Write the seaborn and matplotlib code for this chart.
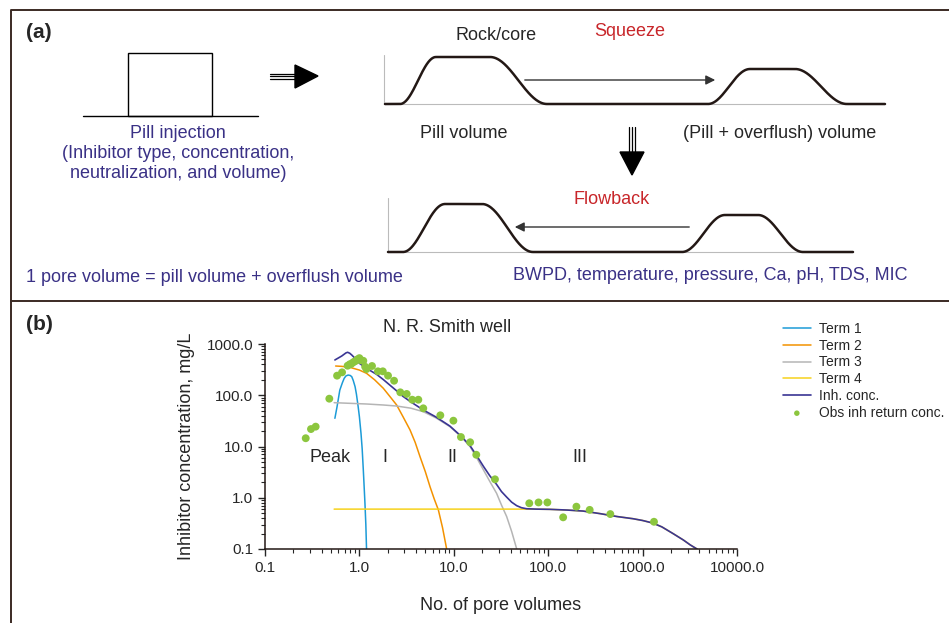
import numpy as np
import matplotlib
matplotlib.use("Agg")
import matplotlib.pyplot as plt
from matplotlib.patches import Polygon, Rectangle
from matplotlib.ticker import FuncFormatter, LogLocator
import seaborn as sns

sns.set_style("ticks")
plt.rcParams['font.family'] = ['Liberation Sans', 'DejaVu Sans']

# ---- data ----
obs_pv = [0.27, 0.307, 0.344, 0.48, 0.58, 0.655, 0.75, 0.79, 0.82, 0.86, 0.90, 0.95,
          1.0, 1.04, 1.1, 1.15, 1.19, 1.36, 1.57, 1.77, 2.01, 2.33, 2.71, 3.17, 3.63,
          4.21, 4.75, 7.2, 9.9, 11.9, 14.9, 17.3, 27.3, 63, 79, 98, 144, 199, 275, 455, 1320]
obs_conc = [14.5, 21.9, 24.4, 85.7, 241, 280, 377, 402, 410, 440, 460, 500,
            530, 480, 470, 360, 325, 372, 293, 293, 241, 192, 114, 106, 81.8,
            81.8, 55.6, 40.6, 31.9, 15.3, 12.1, 6.9, 2.29, 0.78, 0.81, 0.81, 0.415, 0.67, 0.58, 0.48, 0.34]

t1_pv = [0.55, 0.58, 0.62, 0.66, 0.69, 0.72, 0.76, 0.80, 0.83, 0.86, 0.90, 0.93,
         0.97, 1.0, 1.04, 1.07, 1.10, 1.12, 1.145, 1.17, 1.19]
t1_conc = [35.5, 60, 126, 175, 214, 238, 248, 243, 230, 195, 147, 105,
           60, 38, 18, 9, 3.5, 1.8, 0.78, 0.3, 0.1]

t2_pv = [0.56, 0.65, 0.79, 1.0, 1.19, 1.45, 1.79, 2.1, 2.48, 2.9, 3.44, 3.9, 4.39,
         5.0, 5.6, 6.2, 6.86, 7.6, 8.4]
t2_conc = [372, 366, 351, 310, 268, 200, 137, 95, 64.6, 38, 21, 12, 6.3,
           3.2, 1.64, 0.95, 0.58, 0.26, 0.1]

t3_pv = [0.54, 1.19, 1.8, 2.48, 3.5, 4.75, 6.5, 9.1, 12, 14.9, 17.5, 20.6, 24, 28.4,
         32, 36.3, 41, 46.4]
t3_conc = [71.6, 67.5, 64.5, 61.6, 56, 47.8, 36, 24.4, 15.5, 9.9, 6.0, 3.5, 2.1, 1.22,
           0.72, 0.43, 0.22, 0.1]

t4_pv = [0.54, 10, 59, 104, 160, 234, 354, 536, 791, 1000, 1288, 1600, 2100, 2700, 3200, 3770]
t4_conc = [0.60, 0.60, 0.60, 0.594, 0.575, 0.55, 0.49, 0.43, 0.39, 0.36, 0.32, 0.27,
           0.20, 0.15, 0.12, 0.1]

inh_pv = [0.55, 0.65, 0.72, 0.75, 0.79, 0.83, 0.90, 1.0, 1.19, 1.52, 1.8, 2.1, 2.48,
          2.9, 3.44, 4.75, 6.5, 9.1, 12, 14.9, 17.5, 20.6, 24, 28.4, 32, 36.3, 41, 46.4,
          52, 59, 75, 104, 160, 234, 354, 536, 791, 1000, 1288, 1600, 2100, 2700, 3200, 3770]
inh_conc = [488, 583, 670, 689, 660, 610, 525, 420, 335, 256, 201, 158, 122,
            95, 76, 51.5, 37.5, 25, 15.8, 10.3, 6.6, 4.1, 2.7, 1.82, 1.32, 1.03, 0.82, 0.70,
            0.64, 0.61, 0.60, 0.594, 0.575, 0.55, 0.49, 0.43, 0.39, 0.36, 0.32, 0.27,
            0.20, 0.15, 0.12, 0.1]

x_ticks = [0.1, 1, 10, 100, 1000, 10000]
y_ticks = [0.1, 1, 10, 100, 1000]

PURPLE = "#3a3186"
RED = "#c8262a"
FRAME = "#3b2a24"

W, H = 949, 623
fig = plt.figure(figsize=(W / 100, H / 100), dpi=100)

# overlay in pixel coordinates for the schematic (a) and frame
ov = fig.add_axes([0, 0, 1, 1])
ov.set_xlim(0, W)
ov.set_ylim(H, 0)
ov.axis('off')

# frame and divider
ov.plot([11, 11, 949], [623, 10, 10], color=FRAME, lw=1.4)
ov.plot([11, 949], [301, 301], color=FRAME, lw=1.4)

ov.text(26, 33, "(a)", fontsize=15, fontweight='bold', va='center', ha='left')
ov.text(26, 325, "(b)", fontsize=15, fontweight='bold', va='center', ha='left')

# pill box
ov.add_patch(Rectangle((128, 53), 84, 63, fill=False, ec='black', lw=1.0))
ov.plot([83, 258], [116, 116], color='black', lw=1.0)
for i, line in enumerate(["Pill injection", "(Inhibitor type, concentration,",
                          "neutralization, and volume)"]):
    ov.text(178, 133 + i * 20, line, color=PURPLE, fontsize=13, ha='center', va='center')

# triple-line arrow right
for dy in (-2.5, 0, 2.5):
    ov.plot([270, 296], [76 + dy, 76 + dy], color='black', lw=0.9)
ov.add_patch(Polygon([[295, 65], [318, 76], [295, 88]], closed=True, fc='black', ec='black'))

# triple-line arrow down
for dx in (-3, 0, 3):
    ov.plot([632 + dx, 632 + dx], [127, 153], color='black', lw=0.9)
ov.add_patch(Polygon([[620, 152], [644, 152], [632, 175]], closed=True, fc='black', ec='black'))


def bump(xs, base, segs):
    ys = np.full_like(xs, base, dtype=float)
    for x0, x1, x2, x3, top in segs:
        r = (xs >= x0) & (xs < x1)
        ys[r] = base + (top - base) * (1 - np.cos(np.pi * (xs[r] - x0) / (x1 - x0))) / 2
        ys[(xs >= x1) & (xs <= x2)] = top
        f = (xs > x2) & (xs <= x3)
        ys[f] = top + (base - top) * (1 - np.cos(np.pi * (xs[f] - x2) / (x3 - x2))) / 2
    return ys


# squeeze schematic
ov.plot([384, 384], [55, 104], color='#bbbbbb', lw=0.8)
ov.plot([384, 885], [104, 104], color='#bbbbbb', lw=0.8)
xs = np.linspace(385, 885, 600)
ov.plot(xs, bump(xs, 104, [(400, 436, 490, 547, 57), (708, 750, 795, 847, 69)]),
        color='#231815', lw=1.8)
ov.annotate("", xy=(718, 80), xytext=(522, 80),
            arrowprops=dict(arrowstyle='-|>', color='#333333', lw=1.0, mutation_scale=14))
ov.text(496, 35, "Rock/core", fontsize=13, ha='center', va='center')
ov.text(630, 31, "Squeeze", fontsize=13, ha='center', va='center', color=RED)
ov.text(464, 133, "Pill volume", fontsize=13, ha='center', va='center')
ov.text(780, 133, "(Pill + overflush) volume", fontsize=13, ha='center', va='center')

# flowback schematic
ov.plot([388, 388], [198, 252], color='#bbbbbb', lw=0.8)
ov.plot([388, 853], [252, 252], color='#bbbbbb', lw=0.8)
xs = np.linspace(388, 853, 600)
ov.plot(xs, bump(xs, 252, [(403, 445, 482, 533, 204), (682, 725, 758, 803, 215)]),
        color='#231815', lw=1.8)
ov.annotate("", xy=(512, 227), xytext=(692, 227),
            arrowprops=dict(arrowstyle='-|>', color='#333333', lw=1.0, mutation_scale=14))
ov.text(612, 200, "Flowback", fontsize=13, ha='center', va='center', color=RED)
ov.text(26, 278, "1 pore volume = pill volume + overflush volume", fontsize=13,
        ha='left', va='center', color=PURPLE)
ov.text(513, 276, "BWPD, temperature, pressure, Ca, pH, TDS, MIC", fontsize=13,
        ha='left', va='center', color=PURPLE)

# ---- panel (b) chart ----
ax = fig.add_axes([265 / W, 1 - 549 / H, (737 - 265) / W, (549 - 344) / H])
ax.set_facecolor('none')
sns.lineplot(x=t1_pv, y=t1_conc, ax=ax, color='#1c9bd7', lw=1.1, sort=False,
             estimator=None, label='Term 1')
sns.lineplot(x=t2_pv, y=t2_conc, ax=ax, color='#f39200', lw=1.1, sort=False,
             estimator=None, label='Term 2')
sns.lineplot(x=t3_pv, y=t3_conc, ax=ax, color='#b5b5b5', lw=1.1, sort=False,
             estimator=None, label='Term 3')
sns.lineplot(x=t4_pv, y=t4_conc, ax=ax, color='#f6d21c', lw=1.1, sort=False,
             estimator=None, label='Term 4')
sns.lineplot(x=inh_pv, y=inh_conc, ax=ax, color='#3a3594', lw=1.2, sort=False,
             estimator=None, label='Inh. conc.')
sns.scatterplot(x=obs_pv, y=obs_conc, ax=ax, color='#8cc63e', s=32, edgecolor='none',
                label='Obs inh return conc.', zorder=3)

ax.set_xscale('log')
ax.set_yscale('log')
ax.set_xlim(0.1, 10000)
ax.set_ylim(0.1, 1000)
ax.set_xticks(x_ticks)
ax.set_yticks(y_ticks)
fmt = FuncFormatter(lambda v, p: f"{v:.1f}")
ax.xaxis.set_major_formatter(fmt)
ax.yaxis.set_major_formatter(fmt)
ax.xaxis.set_minor_locator(LogLocator(base=10, subs=np.arange(2, 10)))
ax.yaxis.set_minor_locator(LogLocator(base=10, subs=np.arange(2, 10)))
ax.tick_params(which='major', length=5, width=1.0, labelsize=11, direction='out')
ax.tick_params(which='minor', length=3, width=0.8, direction='out')
sns.despine(ax=ax)
for s in ('left', 'bottom'):
    ax.spines[s].set_color('#231815')
    ax.spines[s].set_linewidth(1.1)
ax.set_xlabel("No. of pore volumes", fontsize=13, labelpad=16)
ax.set_ylabel("Inhibitor concentration, mg/L", fontsize=13, labelpad=8)

ov.text(447, 327, "N. R. Smith well", fontsize=13, ha='center', va='center')
ov.text(330, 458, "Peak", fontsize=13, ha='center', va='center')
ov.text(385, 458, "I", fontsize=13, ha='center', va='center')
ov.text(452, 458, "II", fontsize=13, ha='center', va='center')
ov.text(580, 458, "III", fontsize=13, ha='center', va='center')

ax.legend(bbox_to_anchor=(776 / W, 1 - 315 / H), bbox_transform=fig.transFigure,
          loc='upper left', frameon=False, fontsize=10, handlelength=2.0,
          labelspacing=0.2, handletextpad=0.6, borderpad=0, markerscale=0.7)

fig.savefig("out.png", dpi=100)
